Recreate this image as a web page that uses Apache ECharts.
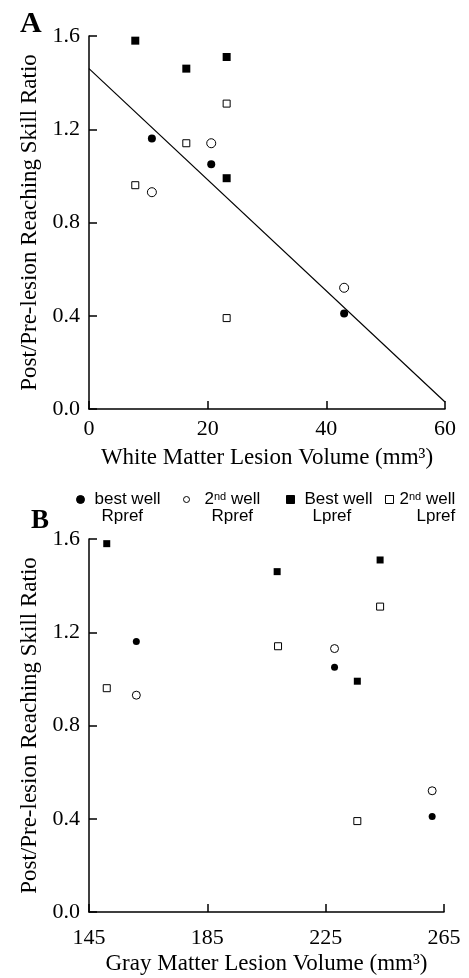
<!DOCTYPE html>
<html>
<head>
<meta charset="utf-8">
<script src="https://cdn.jsdelivr.net/npm/echarts@6/dist/echarts.min.js"></script>
<style>
  html, body { margin: 0; background: #fff; }
  #chart { width: 469px; height: 978px; }
</style>
</head>
<body>
<div id="chart"></div>
<script>
// panel A: white matter lesion volume (mm3) vs skill ratio
const wmBestR = [[10.6, 1.16], [20.6, 1.05], [43.0, 0.41]];
const wm2ndR = [[10.6, 0.93], [20.6, 1.14], [43.0, 0.52]];
const wmBestL = [[7.8, 1.58], [16.4, 1.46], [23.2, 1.51], [23.2, 0.99]];
const wm2ndL = [[7.8, 0.96], [16.4, 1.14], [23.2, 1.31], [23.2, 0.39]];
const wmFit = [[0, 1.46], [60, 0.03]];

// panel B: gray matter lesion volume (mm3) vs skill ratio
const gmBestR = [[161, 1.16], [228, 1.05], [261, 0.41]];
const gm2ndR = [[161, 0.93], [228, 1.13], [261, 0.52]];
const gmBestL = [[151, 1.58], [208.6, 1.46], [243.4, 1.51], [235.7, 0.99]];
const gm2ndL = [[151, 0.96], [208.9, 1.14], [243.4, 1.31], [235.7, 0.39]];

const GROUPS = ['best well Rpref', '2nd well Rpref', 'Best well Lpref', '2nd well Lpref'];
const LEGEND_TEXT = [
  '{t|best well}\n{u|Rpref}',
  '{t|2}{s|nd}{t| well}\n{u|Rpref}',
  '{t|Best well}\n{u|Lpref}',
  '{t|2}{s|nd}{t| well}\n{u|Lpref}'
];

const SERIF = 'Liberation Serif';
const SANS = 'Liberation Sans';

const chart = echarts.init(document.getElementById('chart'));

function axisCommon() {
  return {
    type: 'value',
    axisLine: { show: true, lineStyle: { color: '#000', width: 1.5 } },
    axisTick: { show: true, inside: true, length: 8, lineStyle: { color: '#000', width: 1.5 } },
    splitLine: { show: false },
    axisLabel: { color: '#000', fontFamily: SERIF, fontSize: 22, margin: 9 },
    nameLocation: 'middle',
    nameTextStyle: { color: '#000', fontFamily: SERIF, fontSize: 23 }
  };
}

function yAxis(grid) {
  const a = axisCommon();
  a.gridIndex = grid;
  a.min = 0;
  a.max = 1.6;
  a.interval = 0.4;
  a.axisLabel.formatter = v => v.toFixed(1);
  a.name = 'Post/Pre-lesion Reaching Skill Ratio';
  a.nameGap = 48;
  return a;
}

function xAxis(grid, min, max, interval, name, gap, margin) {
  const a = axisCommon();
  a.gridIndex = grid;
  a.min = min;
  a.max = max;
  a.interval = interval;
  a.name = name;
  a.nameGap = gap;
  a.axisLabel.margin = margin;
  return a;
}

// groups 0,2 filled ; 1,3 open
function scatter(idx, group, data, size) {
  const filled = group === 0 || group === 2;
  return {
    name: GROUPS[group],
    type: 'scatter',
    xAxisIndex: idx,
    yAxisIndex: idx,
    symbol: group < 2 ? 'circle' : 'rect',
    symbolSize: size,
    data: data,
    z: 3,
    itemStyle: {
      color: filled ? '#000' : '#fff',
      borderColor: '#000',
      borderWidth: filled ? 0 : 1,
      opacity: 1
    },
    emphasis: { disabled: true }
  };
}

// icon size, gap to text, indent of 2nd line for each legend entry
const legendPos = [
  { left: 76, s: 8, gap: 5, indent: 7 },
  { left: 183, s: 6, gap: 10, indent: 7 },
  { left: 286, s: 8, gap: 5, indent: 8 },
  { left: 385, s: 8, gap: 1, indent: 17 }
];

const legends = GROUPS.map((g, i) => ({
  data: [g],
  left: legendPos[i].left,
  top: 491,
  padding: 0,
  itemWidth: legendPos[i].s,
  itemHeight: legendPos[i].s,
  selectedMode: false,
  itemStyle: { borderWidth: 1, borderColor: '#000' },
  formatter: () => LEGEND_TEXT[i],
  textStyle: {
    padding: [17, 0, 0, legendPos[i].gap],
    rich: {
      t: { fontFamily: SANS, fontSize: 17, color: '#000', lineHeight: 17 },
      u: { fontFamily: SANS, fontSize: 17, color: '#000', lineHeight: 17, padding: [0, 0, 0, legendPos[i].indent] },
      s: { fontFamily: SANS, fontSize: 11, color: '#000', lineHeight: 9, verticalAlign: 'top' }
    }
  }
}));

const option = {
  animation: false,
  backgroundColor: '#fff',
  title: [
    { text: 'A', left: 20, top: 9, padding: 0, textStyle: { fontFamily: SERIF, fontWeight: 'bold', fontSize: 30, color: '#000' } },
    { text: 'B', left: 31, top: 508, padding: 0, textStyle: { fontFamily: SERIF, fontWeight: 'bold', fontSize: 27, color: '#000' } }
  ],
  legend: legends,
  grid: [
    { left: 89, top: 36, width: 356, height: 373 },
    { left: 89, top: 539, width: 355, height: 373 }
  ],
  xAxis: [
    xAxis(0, 0, 60, 20, 'White Matter Lesion Volume (mm³)', 37, 9),
    xAxis(1, 145, 265, 40, 'Gray Matter Lesion Volume (mm³)', 40, 15)
  ],
  yAxis: [yAxis(0), yAxis(1)],
  series: [
    {
      name: 'fit',
      type: 'line',
      xAxisIndex: 0,
      yAxisIndex: 0,
      data: wmFit,
      symbol: 'none',
      z: 2,
      lineStyle: { color: '#000', width: 1.2 },
      emphasis: { disabled: true }
    },
    scatter(0, 0, wmBestR, 8),
    scatter(0, 1, wm2ndR, 9),
    scatter(0, 2, wmBestL, 8),
    scatter(0, 3, wm2ndL, 7),
    scatter(1, 0, gmBestR, 7),
    scatter(1, 1, gm2ndR, 8),
    scatter(1, 2, gmBestL, 7),
    scatter(1, 3, gm2ndL, 7)
  ]
};

chart.setOption(option);
</script>
</body>
</html>
